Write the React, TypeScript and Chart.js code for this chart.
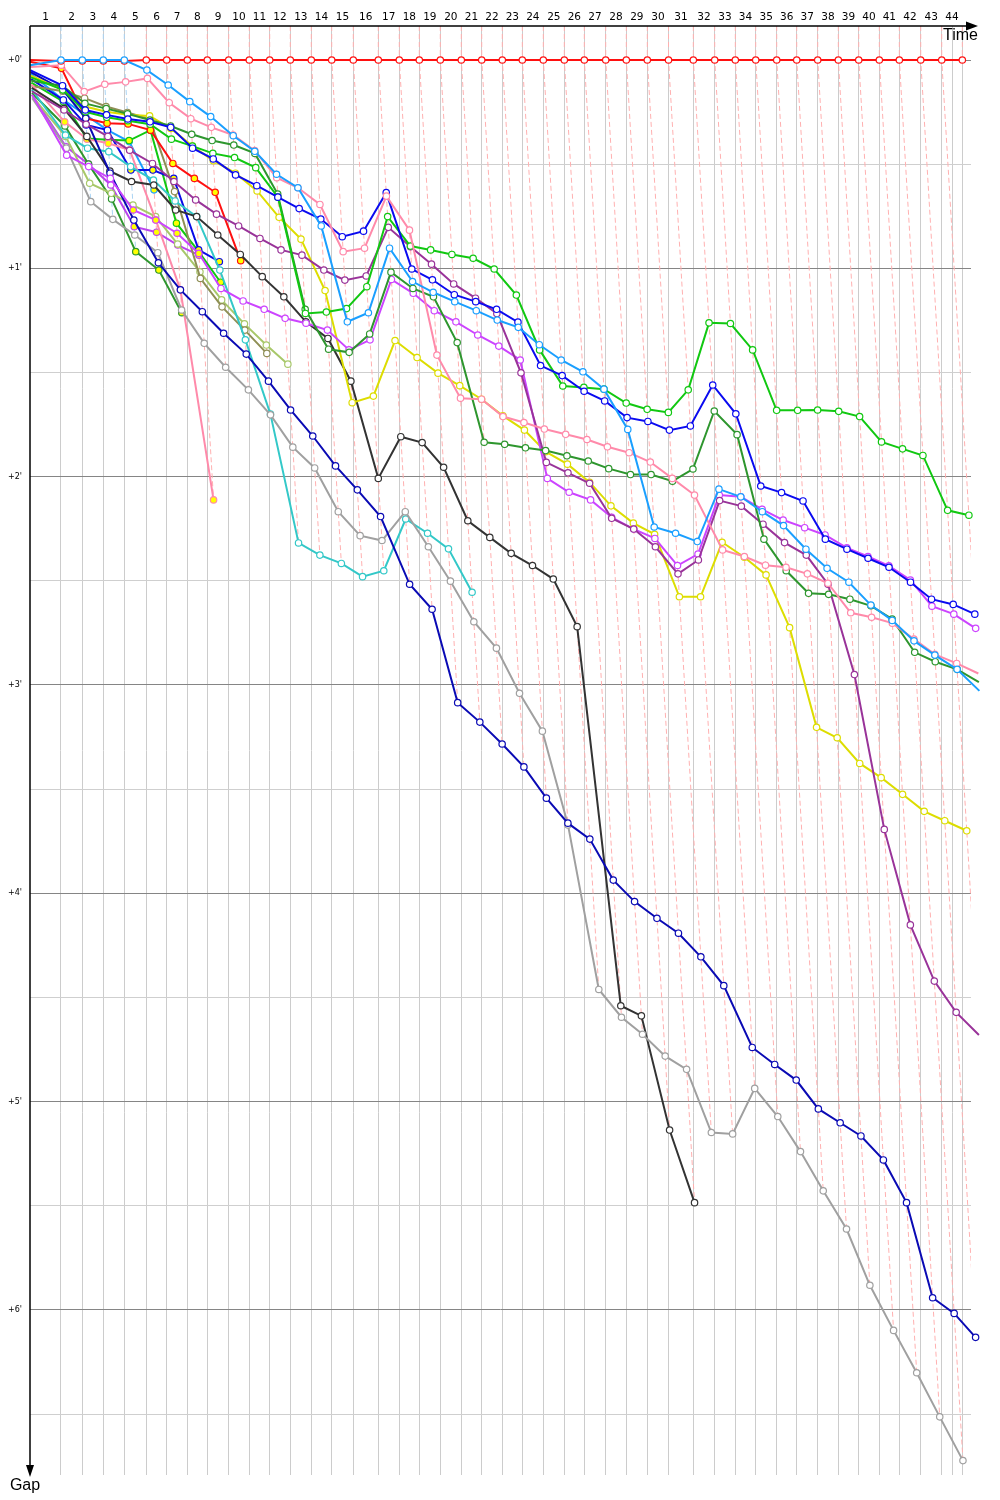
import React, { useEffect, useRef } from "react";
import { Chart, registerables } from "chart.js";

Chart.register(...registerables);

// Leader's lap durations (seconds), lap 1..44
const leaderLapTimes = [
  149.5, 102.8, 101.3, 101.3, 106.1, 98.4, 99.4, 96.5, 103.2, 99.4, 98.4, 99.4, 101.3, 98.4, 104.2, 120.6, 101.3,
  96.5, 101.3, 101.3, 98.4, 99.4, 96.5, 101.3, 101.3, 96.5, 103.2, 99.4, 101.3, 102.3, 119.6, 103.2, 99.4, 98.4,
  101.3, 96.5, 101.3, 99.4, 98.4, 99.4, 96.5, 103.2, 101.3, 99.4,
];
const lapLabels = [
  "1", "2", "3", "4", "5", "6", "7", "8", "9", "10", "11", "12", "13", "14", "15", "16", "17", "18", "19", "20", "21", "22",
  "23", "24", "25", "26", "27", "28", "29", "30", "31", "32", "33", "34", "35", "36", "37", "38", "39", "40", "41", "42", "43", "44",
];
const gapTickValues = [0, 30, 60, 90, 120, 150, 180, 210, 240, 270, 300, 330, 360, 390];
const gapTickLabels = ["+0'", "+1'", "+2'", "+3'", "+4'", "+5'", "+6'"];
const extraTimeLine = 4452;

// Gaps to the leader in seconds, index = lap (0 = grid)
const redGaps = [
  0, 0.3, 0.3, 0.3, 0.3, 0, 0, 0, 0, 0, 0, 0, 0, 0, 0, 0, 0, 0, 0, 0, 0, 0, 0, 0, 0, 0, 0, 0, 0, 0, 0, 0, 0, 0, 0,
  0, 0, 0, 0, 0, 0, 0, 0, 0, 0,
];
const lightBlueGaps = [
  1.5, 0, 0, 0, 0, 2.9, 7.2, 12, 16.3, 21.8, 26.3, 32.9, 36.8, 47.8, 75.4, 72.8, 54.2, 63.8, 66.9, 69.6, 72.2, 74.9,
  77, 82, 86.4, 89.8, 94.8, 106.4, 134.5, 136.3, 138.7, 123.6, 125.8, 130.1, 134.1, 140.9, 146.4, 150.4, 157, 161.4,
  167.3, 171.4, 175.5, 181.7,
];
const pinkGaps = [
  2, 1.5, 9.1, 7, 6.3, 5.3, 12.3, 16.9, 19.4, 21.6, 26.1, 33.9, 36.8, 41.6, 55.2, 54.2, 39.2, 49, 85, 97.4, 97.7,
  102.7, 104.4, 106.3, 107.8, 109.3, 111.4, 113.1, 115.8, 120.5, 125.3, 141.1, 143, 145.5, 146.1, 148, 150.7, 159.2,
  160.5, 162.2, 166.8, 171.2, 173.8, 176.7,
];
const blueGaps = [
  3, 7.4, 14.4, 15.8, 17, 17.8, 19.4, 25.4, 28.5, 33.1, 36.2, 39.5, 42.8, 45.8, 50.9, 49.3, 38.2, 60.2, 63.3, 67.6,
  69.6, 71.8, 75.5, 88, 90.9, 95.4, 98.2, 103, 104.1, 106.6, 105.4, 93.6, 101.9, 122.7, 124.6, 127, 138, 140.9, 143.5,
  146.1, 150.4, 155.3, 156.8, 159.6,
];
const greenGaps = [
  5, 8.6, 14.9, 16.5, 17.5, 18.5, 22.8, 24.8, 26.9, 28.1, 31, 39.5, 73, 72.6, 71.6, 65.3, 45.1, 53.6, 54.7, 56, 57.1,
  60.2, 67.7, 83.5, 93.9, 94.3, 94.8, 98.8, 100.6, 101.5, 95, 75.7, 75.9, 83.5, 100.9, 100.9, 100.8, 101.2, 102.7, 110,
  112, 113.9, 129.7, 131.1,
];
const darkGreenGaps = [
  6, 7.5, 12.5, 14, 15.5, 17.3, 19, 21.4, 23.2, 24.5, 26.9, 38.6, 71.8, 83.3, 84.2, 78.9, 61.1, 65.8, 68.2, 81.4,
  110.1, 110.7, 111.7, 112.5, 114, 115.5, 117.7, 119.4, 119.4, 121.3, 117.8, 101.1, 107.9, 138, 147.1, 153.6, 153.9,
  155.3, 157.2, 161, 170.6, 173.3, 175.5, 179.2,
];
const purpleGaps = [
  9, 14.4, 18.5, 22, 26, 29.8, 35, 40.3, 44.4, 47.8, 51.4, 54.7, 56.2, 60.5, 63.4, 62.2, 48.2, 53.8, 58.8, 64.5, 68.6,
  73, 90.1, 115.9, 118.9, 121.9, 132, 135.1, 140.2, 148, 144, 126.9, 128.5, 133.7, 139, 142.6, 151, 177, 221.6, 249.1,
  265.3, 274.3, 280.8,
];
const magentaGaps = [
  10, 27.4, 30.7, 34.1, 43.2, 46.1, 49.9, 55.7, 65.8, 69.4, 71.8, 74.4, 75.8, 77.8, 83.5, 80.6, 63.2, 67.2, 72.2,
  75.4, 79.2, 82.4, 86.4, 120.5, 124.5, 126.7, 131.7, 135.1, 137.8, 145.6, 142.3, 125.3, 125.8, 129.4, 132.5, 134.7,
  136.8, 140.5, 143, 145.7, 149.8, 157.3, 159.6, 163.7,
];
const yellowGaps = [
  4.5, 8.6, 13.4, 14.9, 15.8, 16.1, 19.7, 24.8, 29, 32.6, 37.7, 45.3, 51.6, 66.4, 98.7, 96.8, 80.8, 85.7, 90.2, 93.8,
  97.7, 102.5, 106.6, 112.8, 116.4, 121.6, 128.4, 133.4, 136.6, 154.6, 154.6, 138.9, 143.2, 148.3, 163.5, 192.2, 195.2,
  202.6, 206.7, 211.5, 216.4, 219.1, 222,
];
const navyGaps = [
  3.5, 8.6, 16.8, 32.6, 46.1, 58.4, 66.2, 72.5, 78.7, 84.7, 92.5, 100.8, 108.3, 116.9, 123.8, 131.5, 151, 158.2,
  185.1, 190.7, 197, 203.6, 212.6, 219.8, 224.4, 236.2, 242.4, 247.2, 251.5, 258.3, 266.6, 284.4, 289.3, 293.8, 302.1,
  306.1, 309.9, 316.8, 329.1, 356.5, 361, 367.9,
];
const grayGaps = [
  11, 25.4, 40.8, 45.9, 50.4, 55.5, 72, 81.6, 88.5, 95, 102.2, 111.5, 117.5, 130.1, 137, 138.4, 130.1, 140.2, 150.1,
  161.8, 169.4, 182.4, 193.3, 220.3, 267.7, 275.7, 280.6, 286.9, 290.7, 308.9, 309.3, 296.2, 304.3, 314.4, 325.7,
  336.7, 352.9, 365.9, 378.1, 390.8, 403.4,
];
const blackGaps = [
  8, 14, 22, 32, 35, 36, 43.2, 45.1, 50.4, 56, 62.4, 68.2, 75.4, 80.2, 92.5, 120.5, 108.5, 110.2, 117.3, 132.7, 137.5,
  142.1, 145.6, 149.5, 163.2, 272.4, 275.3, 308.2, 329.1,
];
const tealGaps = [
  8.5, 21.6, 25.4, 26.4, 30.7, 34.6, 40.6, 45.1, 60.5, 80.6, 102, 139.1, 142.6, 145, 148.8, 147.1, 132.2, 136.3,
  140.8, 153.3,
];
const red2Gaps = [0.5, 2.4, 16.8, 18.2, 18.4, 20.2, 29.8, 34.1, 38.1, 57.8];
const pink2Gaps = [7, 17.8, 22.8, 24, 25.9, 46.1, 66.2, 126.7];
const oliveGaps = [7.5, 9, 11, 13.4, 15.1, 17, 37.9, 62.9, 71.1, 77.8, 84.5];
const lightGreenGaps = [10.5, 22, 35.5, 38.4, 41.8, 45.1, 53, 61, 69.1, 76, 82.1, 87.6];
const blue2Gaps = [5.5, 11.5, 18.7, 20.2, 31.7, 31.7, 34.1, 54.7, 58.1];
const darkGreen2Gaps = [9.5, 19, 30, 40, 55.2, 60.5, 72.8];
const green2Gaps = [6.5, 12, 22.6, 23, 23.2, 20.2, 47, 55.2, 64];
const lightBlue2Gaps = [4, 11.5, 15.8, 20.2, 23.5, 37.4];
const magenta2Gaps = [10, 25, 30, 36, 48, 49.6, 53.3, 56.2];

// laps drawn with a yellow-filled marker
const red2Marked = [1, 2, 3, 4, 5, 6, 7, 8, 9];
const pink2Marked = [1, 2, 3, 4, 5, 6, 7];
const blue2Marked = [4, 5, 6, 7, 8];
const darkGreen2Marked = [4, 5, 6];
const green2Marked = [2, 3, 4, 6, 7, 8];
const lightBlue2Marked = [2, 3, 4, 5];
const magentaMarked = [4, 5, 6, 7];
const magenta2Marked = [4, 5, 6, 7];

const series = [
  { color: "#1a9fff", gaps: lightBlueGaps, marked: [] as number[], lapLine: "#a9d3f3" },
  { color: "#ff1010", gaps: redGaps, marked: [] as number[], lapLine: "#ffb0b0" },
  { color: "#ff8aaa", gaps: pinkGaps, marked: [] as number[] },
  { color: "#0a0af0", gaps: blueGaps, marked: [] as number[] },
  { color: "#11c811", gaps: greenGaps, marked: [] as number[] },
  { color: "#2e962e", gaps: darkGreenGaps, marked: [] as number[] },
  { color: "#993399", gaps: purpleGaps, marked: [] as number[] },
  { color: "#cc44ff", gaps: magentaGaps, marked: magentaMarked },
  { color: "#dddd00", gaps: yellowGaps, marked: [] as number[] },
  { color: "#0a0ab4", gaps: navyGaps, marked: [] as number[] },
  { color: "#a0a0a0", gaps: grayGaps, marked: [] as number[] },
  { color: "#333333", gaps: blackGaps, marked: [] as number[] },
  { color: "#33c8c8", gaps: tealGaps, marked: [] as number[] },
  { color: "#ff1010", gaps: red2Gaps, marked: red2Marked },
  { color: "#ff8aaa", gaps: pink2Gaps, marked: pink2Marked },
  { color: "#8f8f55", gaps: oliveGaps, marked: [] as number[] },
  { color: "#a8c86a", gaps: lightGreenGaps, marked: [] as number[] },
  { color: "#0a0ae6", gaps: blue2Gaps, marked: blue2Marked },
  { color: "#2e962e", gaps: darkGreen2Gaps, marked: darkGreen2Marked },
  { color: "#11c811", gaps: green2Gaps, marked: green2Marked },
  { color: "#1a9fff", gaps: lightBlue2Gaps, marked: lightBlue2Marked },
  { color: "#bb44ee", gaps: magenta2Gaps, marked: magenta2Marked },
];

const PX_TOP = 26;
const PX_ZERO = 60;
const PX_BOTTOM = 1475;
const PX_LEFT = 30;
const PX_RIGHT = 971;
const Y_PX_PER_S = 3.472;
const X_PX_PER_S = 0.2073;
const Y_MIN = -(PX_ZERO - PX_TOP) / Y_PX_PER_S;
const Y_MAX = Y_MIN + (PX_BOTTOM - PX_TOP) / Y_PX_PER_S;
const X_MIN = 0;
const X_MAX = (PX_RIGHT - PX_LEFT) / X_PX_PER_S;

export default function App() {
  const canvasRef = useRef<HTMLCanvasElement | null>(null);

  useEffect(() => {
    const canvas = canvasRef.current;
    if (!canvas) return;

    const lapStart: number[] = [0];
    leaderLapTimes.forEach((t, i) => lapStart.push(lapStart[i] + t));

    const seriesDatasets = series.map((s) => ({
      type: "line" as const,
      data: s.gaps.map((g, lap) => ({ x: lapStart[lap] + g, y: g })),
      borderColor: s.color,
      borderWidth: 2,
      pointRadius: s.gaps.map((_, lap) => (lap === 0 ? 0 : 3.2)),
      pointBorderWidth: 1.2,
      pointBorderColor: s.color,
      pointBackgroundColor: s.gaps.map((_, lap) => (s.marked.includes(lap) ? "#ffff00" : "#ffffff")),
      tension: 0,
      fill: false,
      order: 0,
      clip: false as const,
    }));

    const lapLineDatasets = lapLabels.map((_, i) => {
      const lap = i + 1;
      const present = series.filter((s) => s.gaps.length > lap);
      let leader = present[0];
      present.forEach((s) => {
        if (s.gaps[lap] < leader.gaps[lap]) leader = s;
      });
      const maxGap = Math.max(...present.map((s) => s.gaps[lap]));
      const color = (leader as any).lapLine || "#ffb0b0";
      return {
        type: "line" as const,
        data: [
          { x: lapStart[lap], y: Y_MIN },
          { x: lapStart[lap], y: 0 },
          { x: lapStart[lap] + maxGap, y: maxGap },
        ],
        borderColor: color,
        borderWidth: 1,
        borderDash: [5, 3],
        pointRadius: 0,
        tension: 0,
        fill: false,
        order: 10,
      };
    });

    const decor = {
      id: "decor",
      afterDraw(chart: any) {
        const { ctx, chartArea, scales } = chart;
        const xs = scales.x;
        const ys = scales.y;
        ctx.save();
        ctx.fillStyle = "#000";
        ctx.strokeStyle = "#000";
        // lap labels
        ctx.font = '10.5px "DejaVu Sans", Verdana, sans-serif';
        ctx.textAlign = "center";
        ctx.textBaseline = "middle";
        lapLabels.forEach((lbl, i) => {
          const a = xs.getPixelForValue(lapStart[i]);
          const b = xs.getPixelForValue(lapStart[i + 1]);
          ctx.fillText(lbl, (a + b) / 2, chartArea.top - 9);
        });
        // gap labels
        ctx.font = '8px "DejaVu Sans", Verdana, sans-serif';
        ctx.textAlign = "right";
        gapTickLabels.forEach((lbl, i) => {
          ctx.fillText(lbl, chartArea.left - 8, ys.getPixelForValue(i * 60));
        });
        // axes
        ctx.lineWidth = 1.5;
        const left = chartArea.left;
        const top = chartArea.top;
        const arrowX = chartArea.right + 7;
        const arrowY = chartArea.bottom + 2;
        ctx.beginPath();
        ctx.moveTo(left, top);
        ctx.lineTo(arrowX - 10, top);
        ctx.stroke();
        ctx.beginPath();
        ctx.moveTo(arrowX, top);
        ctx.lineTo(arrowX - 12, top - 4.5);
        ctx.lineTo(arrowX - 12, top + 4.5);
        ctx.closePath();
        ctx.fill();
        ctx.beginPath();
        ctx.moveTo(left, top);
        ctx.lineTo(left, arrowY - 10);
        ctx.stroke();
        ctx.beginPath();
        ctx.moveTo(left, arrowY);
        ctx.lineTo(left - 4, arrowY - 12);
        ctx.lineTo(left + 4, arrowY - 12);
        ctx.closePath();
        ctx.fill();
        // axis titles
        ctx.font = '16px "Liberation Sans", Arial, sans-serif';
        ctx.textAlign = "right";
        ctx.fillText("Time", arrowX, top + 10);
        ctx.textAlign = "center";
        ctx.fillText("Gap", left - 5, arrowY + 9);
        ctx.restore();
      },
    };

    const chart = new Chart(canvas, {
      type: "line",
      data: { datasets: [...seriesDatasets, ...lapLineDatasets] as any },
      options: {
        responsive: false,
        maintainAspectRatio: false,
        devicePixelRatio: 1,
        animation: false,
        events: [],
        layout: {
          padding: { left: PX_LEFT, top: PX_TOP, right: 1000 - PX_RIGHT, bottom: 1500 - PX_BOTTOM },
        },
        plugins: { legend: { display: false }, tooltip: { enabled: false } },
        scales: {
          x: {
            type: "linear",
            position: "top",
            min: X_MIN,
            max: X_MAX,
            afterBuildTicks: (axis: any) => {
              axis.ticks = [...lapStart.slice(1), extraTimeLine].map((v) => ({ value: v }));
            },
            ticks: { display: false },
            grid: { color: "#cccccc", lineWidth: 1, drawTicks: false },
            border: { display: false },
          },
          y: {
            type: "linear",
            min: Y_MIN,
            max: Y_MAX,
            reverse: true,
            afterBuildTicks: (axis: any) => {
              axis.ticks = gapTickValues.map((v) => ({ value: v }));
            },
            ticks: { display: false },
            grid: {
              color: (c: any) => (c.tick && c.tick.value % 60 === 0 ? "#858585" : "#cfcfcf"),
              lineWidth: 1,
              drawTicks: false,
            },
            border: { display: false },
          },
        },
      } as any,
      plugins: [decor],
    });

    return () => chart.destroy();
  }, []);

  return (
    <div style={{ position: "absolute", left: 0, top: 0, width: 1000, height: 1500, background: "#fff" }}>
      <canvas ref={canvasRef} width={1000} height={1500} style={{ display: "block" }} />
    </div>
  );
}
